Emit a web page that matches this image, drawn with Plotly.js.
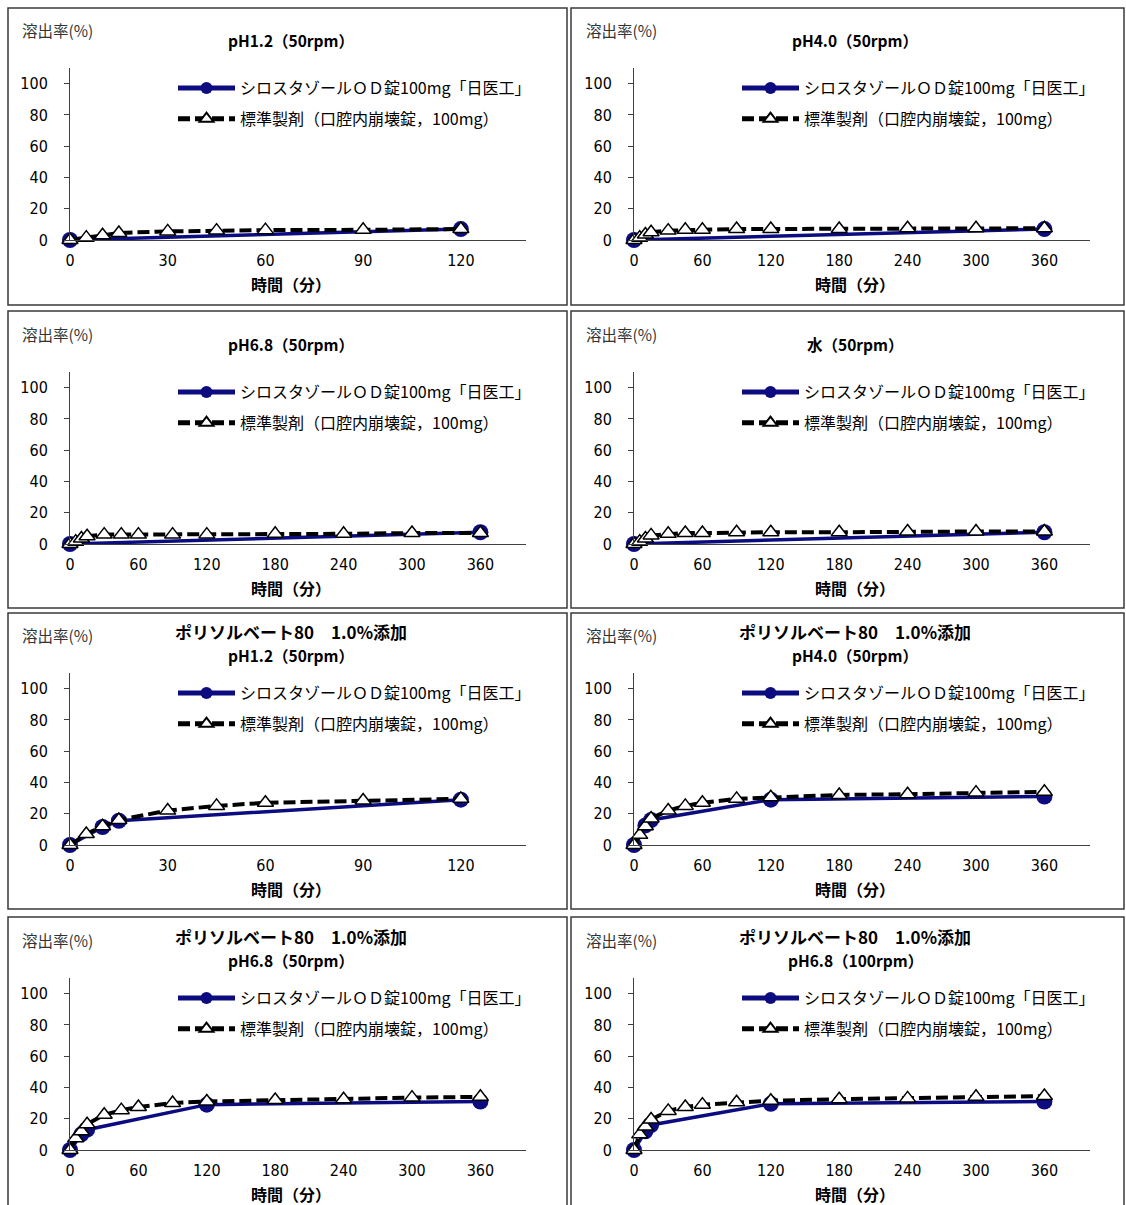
<!DOCTYPE html>
<html><head><meta charset="utf-8">
<script src="https://cdn.plot.ly/plotly-3.0.1.min.js"></script>
<style>body{margin:0;background:#fff}</style>
</head><body>
<div id="chart" style="width:1126px;height:1205px"></div>
<script>
// ---------- data ----------
const seriesTest = 'シロスタゾールＯＤ錠100mg「日医工」';
const seriesRef = '標準製剤（口腔内崩壊錠，100mg）';
const yAxisLabel = '溶出率(%)';
const xAxisLabel = '時間（分）';
const additiveLine = 'ポリソルベート80　1.0%添加';

const ticks120 = [0, 30, 60, 90, 120];
const ticks360 = [0, 60, 120, 180, 240, 300, 360];
const yTicks = [0, 20, 40, 60, 80, 100];

const timeRef120 = [0, 5, 10, 15, 30, 45, 60, 90, 120];
const timeRef360 = [0, 5, 10, 15, 30, 45, 60, 90, 120, 180, 240, 300, 360];
const timeTestEnd120 = [0, 120];
const timeTestEnd360 = [0, 360];
const timeTestPS120 = [0, 10, 15, 120];
const timeTestPS360 = [0, 10, 15, 120, 360];

// 1: pH1.2 (50rpm)
const refPH12 = [0, 1.5, 3, 4.5, 5.5, 6, 6.3, 6.5, 7];
const testPH12 = [0, 7];
// 2: pH4.0 (50rpm)
const refPH40 = [0, 1.5, 3.5, 5, 6, 6.5, 6.5, 7, 7, 7, 7.5, 7.5, 7.5];
const testPH40 = [0, 7];
// 3: pH6.8 (50rpm)
const refPH68 = [0, 1.5, 3.5, 5, 6, 6, 6, 6, 6, 6.5, 6.5, 7, 7];
const testPH68 = [0, 7.5];
// 4: water (50rpm)
const refWater = [0, 1.5, 3.5, 5.5, 6.5, 7, 7, 7.5, 7.5, 7.5, 8, 8, 8];
const testWater = [0, 7.5];
// 5: PS80 pH1.2 (50rpm)
const refPSPH12 = [0, 7, 12, 16, 22, 25, 27, 28.5, 29.5];
const testPSPH12 = [0, 11.5, 15.5, 29];
// 6: PS80 pH4.0 (50rpm)
const refPSPH40 = [0, 6.5, 12, 17, 22, 25, 27, 29.5, 30.5, 32, 32.5, 33.5, 34];
const testPSPH40 = [0, 12.5, 16, 29, 31];
// 7: PS80 pH6.8 (50rpm)
const refPSPH68 = [0, 7.5, 12, 16.5, 22.5, 25.5, 27.5, 30, 31, 32, 32.5, 33.5, 34];
const testPSPH68 = [0, 10, 13, 29, 31];
// 8: PS80 pH6.8 (100rpm)
const refPSPH68r100 = [0, 10, 15, 19.5, 25, 27.5, 29, 30.5, 31.5, 32.5, 33, 34, 34.5];
const testPSPH68r100 = [0, 12, 16, 29.5, 31];

const panels = [
  {title: ['pH1.2（50rpm）'], tRef: timeRef120, ref: refPH12, tTest: timeTestEnd120, test: testPH12, ticks: ticks120, xmax: 140},
  {title: ['pH4.0（50rpm）'], tRef: timeRef360, ref: refPH40, tTest: timeTestEnd360, test: testPH40, ticks: ticks360, xmax: 400},
  {title: ['pH6.8（50rpm）'], tRef: timeRef360, ref: refPH68, tTest: timeTestEnd360, test: testPH68, ticks: ticks360, xmax: 400},
  {title: ['水（50rpm）'], tRef: timeRef360, ref: refWater, tTest: timeTestEnd360, test: testWater, ticks: ticks360, xmax: 400},
  {title: [additiveLine, 'pH1.2（50rpm）'], tRef: timeRef120, ref: refPSPH12, tTest: timeTestPS120, test: testPSPH12, ticks: ticks120, xmax: 140},
  {title: [additiveLine, 'pH4.0（50rpm）'], tRef: timeRef360, ref: refPSPH40, tTest: timeTestPS360, test: testPSPH40, ticks: ticks360, xmax: 400},
  {title: [additiveLine, 'pH6.8（50rpm）'], tRef: timeRef360, ref: refPSPH68, tTest: timeTestPS360, test: testPSPH68, ticks: ticks360, xmax: 400},
  {title: [additiveLine, 'pH6.8（100rpm）'], tRef: timeRef360, ref: refPSPH68r100, tTest: timeTestPS360, test: testPSPH68r100, ticks: ticks360, xmax: 400}
];

// ---------- layout helpers ----------
const W = 1126, H = 1205;
const FONT = "'Liberation Sans Narrow', 'Arial Narrow', 'DejaVu Sans Condensed', 'Noto Sans CJK JP', sans-serif";
const FONT_JP = "'Liberation Sans Narrow', 'Arial Narrow', 'Noto Sans CJK JP', sans-serif";
const px = v => v / W;
const py = v => 1 - v / H;
const colPlotX = [[70, 526], [634, 1090]];
const rowPlot = [[68, 240], [372, 544], [673, 845], [978, 1150]]; // top, bottom (px)
const colBox = [[8, 567], [571, 1124]];
const rowBox = [[8, 305], [311, 608], [613, 909], [917, 1215]];

const traces = [];
const layout = {
  width: W, height: H,
  margin: {l: 0, r: 0, t: 0, b: 0},
  paper_bgcolor: '#fff', plot_bgcolor: 'rgba(0,0,0,0)',
  font: {family: FONT_JP, size: 16, color: '#000'},
  showlegend: true,
  shapes: [], annotations: []
};

panels.forEach((p, i) => {
  const k = i + 1;
  const col = i % 2, row = Math.floor(i / 2);
  const [x0, x1] = colPlotX[col];
  const [yt, yb] = rowPlot[row];
  const xa = 'xaxis' + (k === 1 ? '' : k), ya = 'yaxis' + (k === 1 ? '' : k);
  const xr = 'x' + (k === 1 ? '' : k), yr = 'y' + (k === 1 ? '' : k);
  const lg = 'legend' + (k === 1 ? '' : k);

  layout[xa] = {
    domain: [px(x0), px(x1)], anchor: yr, range: [0, p.xmax],
    tickvals: p.ticks, ticktext: p.ticks.map(String),
    showline: true, linecolor: '#404040', linewidth: 1,
    ticks: 'outside', ticklen: 6, tickcolor: 'rgba(0,0,0,0)',
    showgrid: false, zeroline: false, fixedrange: true,
    tickfont: {size: 16, family: FONT, color: '#000'}
  };
  layout[ya] = {
    domain: [py(yb), py(yt)], anchor: xr, range: [0, 110],
    tickvals: yTicks, ticktext: yTicks.map(String),
    showline: true, linecolor: '#404040', linewidth: 1,
    ticks: 'outside', ticklen: 5, tickcolor: '#404040',
    ticklabelstandoff: 13,
    showgrid: false, zeroline: false, fixedrange: true,
    tickfont: {size: 16, family: FONT, color: '#000'}
  };
  layout[lg] = {
    x: px(x0 + 103), y: py(yt + 3), xanchor: 'left', yanchor: 'top',
    bgcolor: 'rgba(0,0,0,0)', borderwidth: 0,
    font: {size: 16, family: FONT_JP, color: '#000'},
    traceorder: 'grouped', tracegroupgap: 7, itemsizing: 'constant', itemwidth: 57
  };

  traces.push({
    x: p.tTest, y: p.test, xaxis: xr, yaxis: yr, name: seriesTest,
    legend: lg, legendgroup: 'a' + k, mode: 'lines+markers', cliponaxis: false,
    line: {color: '#0C0C80', width: 3.5},
    marker: {symbol: 'circle', size: 16, color: '#0C0C80'}
  });
  traces.push({
    x: p.tRef, y: p.ref, xaxis: xr, yaxis: yr, name: seriesRef,
    legend: lg, legendgroup: 'b' + k, mode: 'lines+markers', cliponaxis: false,
    line: {color: '#000', width: 4, dash: '12px,5px'},
    marker: {symbol: 'triangle-up', size: 14, color: '#fff', line: {color: '#000', width: 1.5}}
  });

  // panel box
  const [bx0, bx1] = colBox[col];
  const [by0, by1] = rowBox[row];
  layout.shapes.push({type: 'rect', xref: 'paper', yref: 'paper',
    x0: px(bx0), x1: px(bx1), y0: py(by1), y1: py(by0),
    line: {color: '#3a3a3a', width: 1.5}, fillcolor: 'rgba(0,0,0,0)', layer: 'below'});

  // y label
  layout.annotations.push({xref: 'paper', yref: 'paper', x: px(x0 - 50), y: py(yt - 38),
    xanchor: 'left', yanchor: 'middle', showarrow: false, text: yAxisLabel,
    font: {size: 15.5, family: FONT_JP, color: '#333'}});
  // title
  const cx = (x0 + x1) / 2 - 7;
  if (p.title.length === 1) {
    layout.annotations.push({xref: 'paper', yref: 'paper', x: px(cx), y: py(yt - 28),
      xanchor: 'center', yanchor: 'middle', showarrow: false, text: '<b>' + p.title[0] + '</b>',
      font: {size: 15.5, family: FONT_JP, color: '#000'}});
  } else {
    layout.annotations.push({xref: 'paper', yref: 'paper', x: px(cx), y: py(yt - 42),
      xanchor: 'center', yanchor: 'middle', showarrow: false, text: '<b>' + p.title[0] + '</b>',
      font: {size: 17, family: FONT_JP, color: '#000'}});
    layout.annotations.push({xref: 'paper', yref: 'paper', x: px(cx), y: py(yt - 18),
      xanchor: 'center', yanchor: 'middle', showarrow: false, text: '<b>' + p.title[1] + '</b>',
      font: {size: 15.5, family: FONT_JP, color: '#000'}});
  }
  // x label
  layout.annotations.push({xref: 'paper', yref: 'paper', x: px(cx), y: py(yb + 44),
    xanchor: 'center', yanchor: 'middle', showarrow: false, text: '<b>' + xAxisLabel + '</b>',
    font: {size: 16, family: FONT_JP, color: '#000'}});
});

Plotly.newPlot('chart', traces, layout, {staticPlot: true, displayModeBar: false});
</script>
</body></html>
